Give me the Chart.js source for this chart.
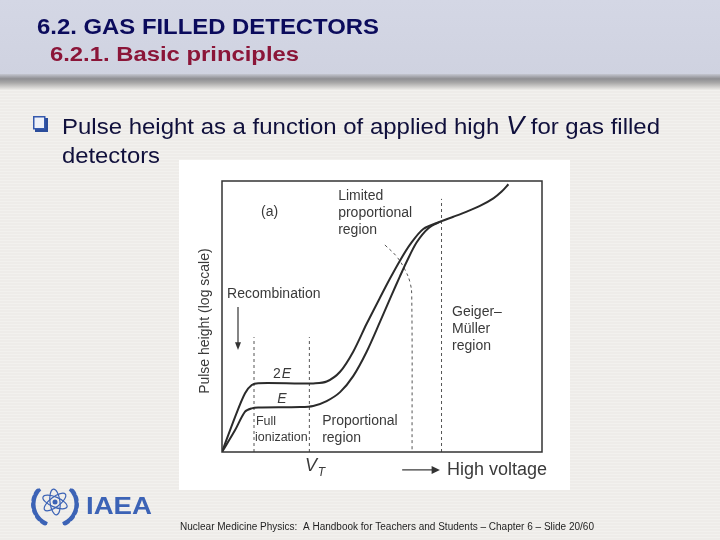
<!DOCTYPE html>
<html>
<head>
<meta charset="utf-8">
<script src="https://cdn.jsdelivr.net/npm/chart.js@4.4.1/dist/chart.umd.min.js"></script>
<style>
  html, body { margin: 0; padding: 0; background: #eeece9; }
  #slide { display: block; }
</style>
</head>
<body>
<canvas id="slide" width="720" height="540"></canvas>
<script>
// ====================================================
// Data (x: applied voltage, y: log pulse height, 0-100)
// ====================================================
const voltage2E = [0, 4.1, 7.2, 9.3, 11.3, 24.4, 28.5, 32.7, 36.9, 41.0, 45.2, 49.4, 52.5, 55.6, 58.8, 62.9, 68.4, 72.3, 76.5, 80.6, 84.8, 87.4, 89.5];
const pulse2E   = [0, 13.0, 21.7, 24.7, 25.4, 25.3, 25.3, 26.0, 29.6, 37.0, 47.3, 57.0, 64.0, 70.6, 76.6, 82.3, 85.1, 86.8, 88.7, 90.8, 93.6, 96.1, 98.8];

const voltageE = [0, 4.1, 7.2, 9.3, 11.3, 24.4, 28.5, 32.7, 36.9, 41.0, 45.2, 49.4, 53.0, 55.6, 57.7, 60.8, 64.5, 68.4];
const pulseE   = [0, 8.1, 14.9, 16.1, 16.4, 16.6, 17.0, 18.8, 22.1, 28.0, 37.0, 48.1, 57.9, 64.8, 70.2, 77.3, 82.6, 85.1];

// region boundaries (dashed)
const boundaryV   = [10.0, 27.3, 68.6];
const boundaryTop = [42.4, 42.4, 93.4];

// limited proportional boundary (dashed curve)
const limitedV = [50.9, 54.6, 57.2, 58.8, 59.3, 59.4];
const limitedH = [76.4, 72.1, 67.2, 62.4, 57.3, 0];

const FONT = "'Liberation Sans', Arial, Helvetica, sans-serif";
const INK = '#3a3a3a';

function toPoints(xs, ys) {
    return xs.map((v, i) => ({ x: v, y: ys[i] }));
}

// ====================================================
// Slide background, header, figure panel
// ====================================================
function fitText(ctx, text, x, y, width) {
    const w = ctx.measureText(text).width;
    ctx.save();
    ctx.translate(x, y);
    ctx.scale(width / w, 1);
    ctx.fillText(text, 0, 0);
    ctx.restore();
}

function drawLogo(ctx) {
    const cx = 55, cy = 506;
    ctx.save();
    ctx.strokeStyle = '#3c63b6';
    ctx.fillStyle = '#3c63b6';
    // wreath
    ctx.lineWidth = 3;
    ctx.beginPath();
    ctx.arc(cx, cy - 2, 21, Math.PI * 0.62, Math.PI * 1.25);
    ctx.stroke();
    ctx.beginPath();
    ctx.arc(cx, cy - 2, 21, Math.PI * 1.75, Math.PI * 0.38);
    ctx.stroke();
    for (let k = 0; k < 6; k++) {
        const a1 = Math.PI * (0.68 + k * 0.1);
        const a2 = Math.PI * (0.32 - k * 0.1);
        [a1, a2].forEach(a => {
            ctx.beginPath();
            ctx.ellipse(cx + Math.cos(a) * 22, cy - 2 + Math.sin(a) * 22, 4, 2, a + Math.PI / 2, 0, Math.PI * 2);
            ctx.fill();
        });
    }
    // atom
    ctx.lineWidth = 1.2;
    for (let k = 0; k < 3; k++) {
        ctx.beginPath();
        ctx.ellipse(cx, cy - 4, 13, 5, k * Math.PI / 3 + 0.4, 0, Math.PI * 2);
        ctx.stroke();
    }
    ctx.beginPath();
    ctx.arc(cx, cy - 4, 2.5, 0, Math.PI * 2);
    ctx.fill();
    ctx.restore();

    ctx.save();
    ctx.fillStyle = '#3c63b6';
    ctx.font = 'bold 23px ' + FONT;
    ctx.textBaseline = 'alphabetic';
    fitText(ctx, 'IAEA', 86, 514, 66);
    ctx.restore();
}

const slidePlugin = {
    id: 'slide',
    beforeDraw(chart) {
        const ctx = chart.ctx;
        ctx.save();
        // body
        ctx.fillStyle = '#eeece9';
        ctx.fillRect(0, 0, 720, 540);
        ctx.strokeStyle = 'rgba(255,255,255,0.25)';
        ctx.lineWidth = 1;
        for (let y = 90; y < 540; y += 3) {
            ctx.beginPath();
            ctx.moveTo(0, y + 0.5);
            ctx.lineTo(720, y + 0.5);
            ctx.stroke();
        }
        // header
        const hg = ctx.createLinearGradient(0, 0, 0, 76);
        hg.addColorStop(0, '#d4d7e5');
        hg.addColorStop(1, '#cfd2e0');
        ctx.fillStyle = hg;
        ctx.fillRect(0, 0, 720, 76);
        const sg = ctx.createLinearGradient(0, 74, 0, 90);
        sg.addColorStop(0, '#c4c6d0');
        sg.addColorStop(0.3, '#8e8e92');
        sg.addColorStop(0.55, '#a9a8a8');
        sg.addColorStop(1, '#eeece9');
        ctx.fillStyle = sg;
        ctx.fillRect(0, 74, 720, 16);

        ctx.textBaseline = 'alphabetic';
        ctx.fillStyle = '#0b0b5c';
        ctx.font = 'bold 21.5px ' + FONT;
        fitText(ctx, '6.2. GAS FILLED DETECTORS', 37, 33.5, 342);
        ctx.fillStyle = '#8b1538';
        ctx.font = 'bold 20px ' + FONT;
        fitText(ctx, '6.2.1. Basic principles', 50, 60.5, 249);

        // bullet
        const bx = 33, by = 116;
        ctx.fillStyle = '#2b4c9a';
        ctx.fillRect(bx + 2, by + 2, 13, 14);
        ctx.fillStyle = '#eef1f8';
        ctx.fillRect(bx, by, 12, 13);
        ctx.strokeStyle = '#3559ad';
        ctx.lineWidth = 1.5;
        ctx.strokeRect(bx + 0.75, by + 0.75, 11, 12);

        ctx.fillStyle = '#10103c';
        ctx.font = '22px ' + FONT;
        const part1 = 'Pulse height as a function of applied high ';
        const part2 = ' for gas filled';
        const w1 = ctx.measureText(part1).width;
        ctx.font = 'italic 25px ' + FONT;
        const wV = ctx.measureText('V').width;
        ctx.font = '22px ' + FONT;
        const w2 = ctx.measureText(part2).width;
        const sx = 598 / (w1 + wV + w2);
        ctx.save();
        ctx.translate(62, 134);
        ctx.scale(sx, 1);
        ctx.fillText(part1, 0, 0);
        ctx.font = 'italic 25px ' + FONT;
        ctx.fillText('V', w1, 0);
        ctx.font = '22px ' + FONT;
        ctx.fillText(part2, w1 + wV, 0);
        ctx.restore();
        fitText(ctx, 'detectors', 62, 163, 98);

        // figure panel
        ctx.fillStyle = '#ffffff';
        ctx.fillRect(179, 160, 391, 330);

        // footer
        ctx.fillStyle = '#1e1e1e';
        ctx.font = '10px ' + FONT;
        fitText(ctx, 'Nuclear Medicine Physics:  A Handbook for Teachers and Students \u2013 Chapter 6 \u2013 Slide 20/60', 180, 530, 414);

        drawLogo(ctx);
        ctx.restore();
    },
    afterDatasetsDraw(chart) {
        const ctx = chart.ctx;
        const xs = chart.scales.x, ys = chart.scales.y;
        const px = v => xs.getPixelForValue(v);
        const py = v => ys.getPixelForValue(v);
        const area = chart.chartArea;
        ctx.save();
        // frame
        ctx.strokeStyle = '#333333';
        ctx.lineWidth = 1.5;
        ctx.strokeRect(area.left, area.top, area.right - area.left, area.bottom - area.top);

        ctx.fillStyle = INK;
        ctx.textBaseline = 'middle';
        ctx.textAlign = 'left';
        ctx.font = '14px ' + FONT;
        ctx.fillText('Limited', px(36.3), py(94.5));
        ctx.fillText('proportional', px(36.3), py(88.2));
        ctx.fillText('region', px(36.3), py(81.9));
        ctx.fillText('Recombination', px(1.6), py(58.3));
        ctx.fillText('Geiger\u2013', px(71.9), py(51.7));
        ctx.fillText('M\u00fcller', px(71.9), py(45.4));
        ctx.fillText('region', px(71.9), py(39.1));
        ctx.fillText('Proportional', px(31.3), py(11.4));
        ctx.fillText('region', px(31.3), py(5.2));
        ctx.fillText('(a)', px(12.2), py(88.6));

        ctx.fillText('2', px(15.9), py(28.8));
        const w2 = ctx.measureText('2').width;
        ctx.font = 'italic 14px ' + FONT;
        ctx.fillText('E', px(15.9) + w2 + 1, py(28.8));
        ctx.fillText('E', px(17.3), py(19.6));

        ctx.font = '12.5px ' + FONT;
        ctx.fillText('Full', px(10.6), py(11.1));
        ctx.fillText('ionization', px(10.3), py(5.5));

        // V_T
        ctx.font = 'italic 18px ' + FONT;
        ctx.fillText('V', px(25.9), py(-5.2));
        ctx.font = 'italic 12px ' + FONT;
        ctx.fillText('T', px(29.9), py(-7.8));

        ctx.font = '18px ' + FONT;
        ctx.fillText('High voltage', px(70.3), py(-6.6));

        // y title
        ctx.save();
        ctx.translate(px(-5.3), py(48.3));
        ctx.rotate(-Math.PI / 2);
        ctx.textAlign = 'center';
        ctx.font = '14px ' + FONT;
        ctx.fillText('Pulse height (log scale)', 0, 0);
        ctx.restore();

        // arrows
        ctx.strokeStyle = '#333333';
        ctx.fillStyle = '#333333';
        ctx.lineWidth = 1.2;
        // recombination
        ctx.beginPath();
        ctx.moveTo(px(5.0), py(53.5));
        ctx.lineTo(px(5.0), py(40.0));
        ctx.stroke();
        ctx.beginPath();
        ctx.moveTo(px(5.0) - 3, py(40.5));
        ctx.lineTo(px(5.0) + 3, py(40.5));
        ctx.lineTo(px(5.0), py(37.6));
        ctx.closePath();
        ctx.fill();
        // high voltage
        ctx.beginPath();
        ctx.moveTo(px(56.3), py(-6.6));
        ctx.lineTo(px(66.0), py(-6.6));
        ctx.stroke();
        ctx.beginPath();
        ctx.moveTo(px(65.5), py(-6.6) - 4);
        ctx.lineTo(px(65.5), py(-6.6) + 4);
        ctx.lineTo(px(68.1), py(-6.6));
        ctx.closePath();
        ctx.fill();
        ctx.restore();
    }
};

// ====================================================
// Build chart
// ====================================================
const dashed = {
    borderColor: '#555555',
    borderWidth: 1,
    borderDash: [3, 3],
    pointRadius: 0,
    tension: 0,
    fill: false
};

const boundarySets = boundaryV.map((v, i) => Object.assign({
    data: toPoints([v, v], [0, boundaryTop[i]])
}, dashed));

const curveStyle = {
    borderColor: '#2b2b2b',
    borderWidth: 2,
    pointRadius: 0,
    tension: 0.3,
    fill: false
};

const ctx = document.getElementById('slide');
new Chart(ctx, {
    type: 'line',
    data: {
        datasets: [
            Object.assign({ label: '2E', data: toPoints(voltage2E, pulse2E) }, curveStyle),
            Object.assign({ label: 'E', data: toPoints(voltageE, pulseE) }, curveStyle),
            Object.assign({ data: toPoints(limitedV, limitedH) }, dashed, { tension: 0.4 }),
            ...boundarySets
        ]
    },
    options: {
        responsive: false,
        animation: false,
        devicePixelRatio: 1,
        layout: { padding: { left: 222, top: 181, right: 178, bottom: 88 } },
        plugins: {
            legend: { display: false },
            tooltip: { enabled: false }
        },
        scales: {
            x: { type: 'linear', min: 0, max: 100, display: false },
            y: { type: 'linear', min: 0, max: 100, display: false }
        }
    },
    plugins: [slidePlugin]
});
</script>
</body>
</html>
